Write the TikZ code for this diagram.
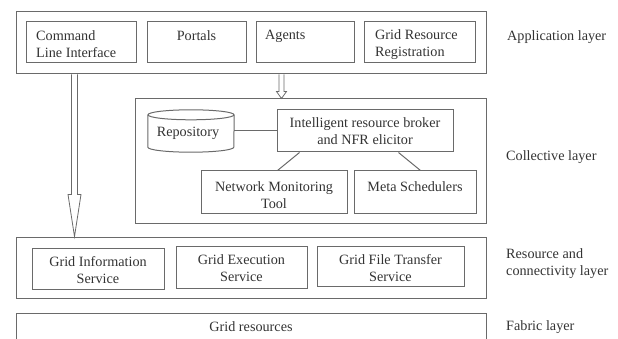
\documentclass[tikz,border=0pt]{standalone}
\usepackage{fontspec}
\setmainfont{Liberation Serif}
\usetikzlibrary{calc}
\definecolor{linegray}{HTML}{6A6A6A}
\definecolor{textgray}{HTML}{333333}
\begin{document}
\begin{tikzpicture}[x=1pt,y=-1pt,
  box/.style={draw=linegray, line width=1pt, inner sep=0pt},
  txt/.style={text=textgray, inner sep=0pt, font=\fontsize{14.2}{17}\selectfont},
  arrowline/.style={draw=linegray, line width=0.8pt, line join=miter}]
\useasboundingbox (0,0) rectangle (618,339);

% Application layer
\node[box, minimum width=470, minimum height=62] (app) at (251,43) {};
\node[box, minimum width=110, minimum height=41] (cli) at (81,42.5) {};
\node[box, minimum width=99, minimum height=41] (portals) at (196.5,42.5) {};
\node[box, minimum width=98, minimum height=41] (agents) at (305,42.5) {};
\node[box, minimum width=111, minimum height=41] (grr) at (419.5,42.5) {};
\node[txt, anchor=west, align=left] (cliT) at (36,44.5) {Command\\Line Interface};
\node[txt] (portalsT) at (196.5,36) {Portals};
\node[txt, anchor=west] (agentsT) at (265,36) {Agents};
\node[txt, anchor=west, align=left] (grrT) at (375,44.5) {Grid Resource\\Registration};
\node[txt, anchor=west] (appL) at (507,37) {Application layer};

% Collective layer
\node[box, minimum width=351, minimum height=124] (coll) at (310.5,161) {};
\node[inner sep=0pt, minimum width=86, minimum height=42] (repo) at (191,131) {};
\draw[box] ($(repo.north west)+(0,5)$) -- ($(repo.south west)+(0,-5)$)
  arc[start angle=180, end angle=360, x radius=43pt, y radius=5pt]
  -- ($(repo.north east)+(0,5)$);
\draw[box] ($(repo.north)+(0,5)$) ellipse[x radius=43pt, y radius=5pt];
\node[txt] (repoT) at (188,133) {Repository};
\node[box, txt, draw=linegray, align=center, minimum width=176, minimum height=42] (broker) at (365,131) {Intelligent resource broker\\and NFR elicitor};
\node[box, minimum width=146, minimum height=42] (nmt) at (274,192) {};
\node[box, minimum width=122, minimum height=42] (meta) at (415,192) {};
\node[txt, align=center] (nmtT) at (274,195) {Network Monitoring\\Tool};
\node[txt] (metaT) at (415,187) {Meta Schedulers};
\node[txt, anchor=west] (collL) at (506,157) {Collective layer};
\draw[box] (repo.east) -- (broker.west);
\draw[box] ($(broker.south west)+(23,0)$) -- ($(nmt.north west)+(77,0)$);
\draw[box] ($(broker.south west)+(122,0)$) -- ($(meta.north west)+(67,0)$);

% Resource and connectivity layer
\node[box, minimum width=470, minimum height=61] (res) at (251,267.5) {};
\node[box, minimum width=132, minimum height=41] (gis) at (98,268.5) {};
\node[box, minimum width=131, minimum height=42] (ges) at (241.5,267) {};
\node[box, minimum width=147, minimum height=40] (gfts) at (390.5,266) {};
\node[txt, align=center] (gisT) at (98,270.5) {Grid Information\\Service};
\node[txt, align=center] (gesT) at (241.5,268) {Grid Execution\\Service};
\node[txt, align=center] (gftsT) at (390.5,268.5) {Grid File Transfer\\Service};
\node[txt, anchor=west, align=left] (resL) at (506,264) {Resource and\\connectivity layer};

% Fabric layer
\node[box, minimum width=470, minimum height=47] (fab) at (251,336.5) {};
\node[txt] (gridT) at (251,327) {Grid resources};
\node[txt, anchor=west] (fabL) at (506,327) {Fabric layer};

% Hollow arrows
\path (app.south west) ++(59,0) coordinate (la1);
\path (la1 |- res.north) coordinate (la2);
\draw[arrowline] ($(la1)+(-3,0)$) -- ($(la2)+(-3,-42)$) -- ($(la2)+(-6.5,-42)$) -- (la2)
  -- ($(la2)+(6.5,-42)$) -- ($(la2)+(3,-42)$) -- ($(la1)+(3,0)$);
\path (app.south west) ++(266,0) coordinate (ra1);
\path (ra1 |- coll.north) coordinate (ra2);
\draw[arrowline] ($(ra1)+(-2.5,0)$) -- ($(ra2)+(-2.5,-7)$) -- ($(ra2)+(-5,-7)$) -- (ra2)
  -- ($(ra2)+(5,-7)$) -- ($(ra2)+(2.5,-7)$) -- ($(ra1)+(2.5,0)$);
\end{tikzpicture}
\end{document}
